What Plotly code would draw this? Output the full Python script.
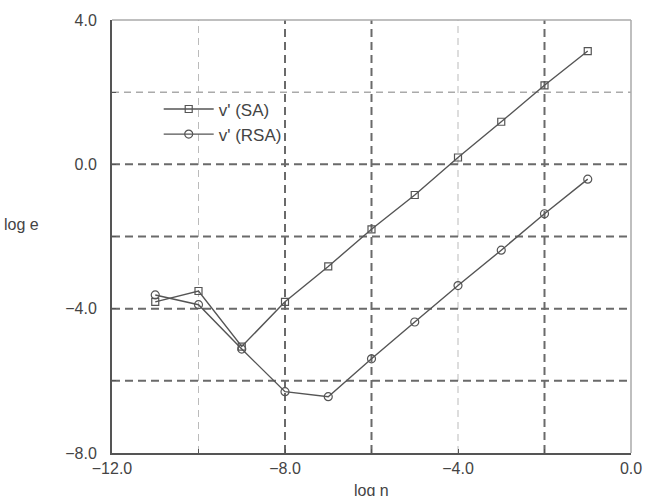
import plotly.graph_objects as go

log_eta = [-11, -10, -9, -8, -7, -6, -5, -4, -3, -2, -1]
sa = [-3.81, -3.51, -5.05, -3.81, -2.83, -1.80, -0.85, 0.19, 1.18, 2.19, 3.14]
rsa = [-3.62, -3.89, -5.12, -6.30, -6.44, -5.39, -4.37, -3.36, -2.38, -1.37, -0.41]
series_names = ["v' (SA)", "v' (RSA)"]

x_tick_vals = [-12, -8, -4, 0]
y_tick_vals = [4, 0, -4, -8]
dark_x_grid = [-8, -6, -2]
light_x_grid = [-10, -4]
dark_y_grid = [0, -2, -4, -6]
light_y_grid = [2]

line_col = "#555555"
txt_col = "#444444"
font = dict(family="Liberation Sans, Arial, sans-serif", size=16, color=txt_col)

fig = go.Figure()
fig.add_trace(go.Scatter(x=log_eta, y=sa, name=series_names[0], mode="lines+markers",
                         line=dict(color=line_col, width=1.4),
                         marker=dict(symbol="square-open", size=7, color="#555555", line=dict(width=1.2))))
fig.add_trace(go.Scatter(x=log_eta, y=rsa, name=series_names[1], mode="lines+markers",
                         line=dict(color=line_col, width=1.4),
                         marker=dict(symbol="circle-open", size=8, color="#555555", line=dict(width=1.2))))

shapes = []
for v in dark_x_grid:
    shapes.append(dict(type="line", xref="x", yref="paper", x0=v, x1=v, y0=0, y1=1,
                       line=dict(color="#6a6a6a", width=2, dash="8px,5px"), layer="below"))
for v in light_x_grid:
    shapes.append(dict(type="line", xref="x", yref="paper", x0=v, x1=v, y0=0, y1=1,
                       line=dict(color="#bbbbbb", width=1, dash="7px,5px"), layer="below"))
for v in dark_y_grid:
    shapes.append(dict(type="line", xref="paper", yref="y", x0=0, x1=1, y0=v, y1=v,
                       line=dict(color="#6a6a6a", width=2, dash="8px,5px"), layer="below"))
for v in light_y_grid:
    shapes.append(dict(type="line", xref="paper", yref="y", x0=0, x1=1, y0=v, y1=v,
                       line=dict(color="#aaaaaa", width=1.5, dash="7px,5px"), layer="below"))
# light top and right frame
shapes.append(dict(type="line", xref="paper", yref="paper", x0=0, x1=1, y0=1, y1=1,
                   line=dict(color="#aaaaaa", width=1.5)))
shapes.append(dict(type="line", xref="paper", yref="paper", x0=1, x1=1, y0=0, y1=1,
                   line=dict(color="#aaaaaa", width=1.5)))

fig.update_layout(
    width=654, height=496,
    margin=dict(l=112, r=13, t=14, b=43),
    paper_bgcolor="white", plot_bgcolor="white",
    font=font,
    shapes=shapes,
    showlegend=True,
    legend=dict(x=0.09, y=0.835, xanchor="left", yanchor="top", bgcolor="rgba(0,0,0,0)",
                font=dict(size=17, color=txt_col), itemwidth=50, tracegroupgap=0),
    xaxis=dict(range=[-12, 0], tickvals=x_tick_vals, tickformat=".1f", showgrid=False, zeroline=False,
               showline=True, linecolor="#555555", linewidth=2, ticks="inside", ticklen=4,
               tickcolor="#555555", tickfont=dict(size=16, color=txt_col),
               minor=dict(dtick=2, ticks="inside", ticklen=4, tickcolor="#555555", showgrid=False)),
    yaxis=dict(range=[-8, 4], tickvals=y_tick_vals, tickformat=".1f", showgrid=False, zeroline=False,
               showline=True, linecolor="#555555", linewidth=2, ticks="inside", ticklen=4,
               tickcolor="#555555", ticklabelstandoff=10, tickfont=dict(size=16, color=txt_col),
               minor=dict(dtick=2, ticks="inside", ticklen=4, tickcolor="#555555", showgrid=False)),
    annotations=[
        dict(text="log e", xref="paper", yref="paper", x=-112/529, y=(453-221)/439,
             xanchor="left", yanchor="middle", showarrow=False, font=dict(size=16, color=txt_col)),
        dict(text="log η", xref="paper", yref="paper", x=0.5, y=-(480-453)/439,
             xanchor="center", yanchor="top", showarrow=False, font=dict(size=16, color=txt_col)),
    ],
)

fig.write_html("out.html")
